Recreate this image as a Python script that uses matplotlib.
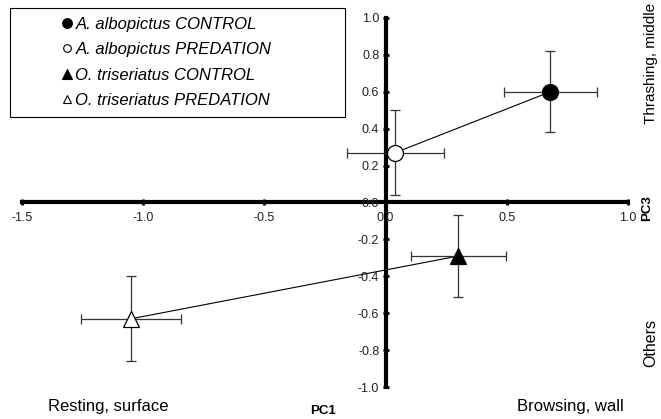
import matplotlib
matplotlib.use('Agg')
import matplotlib.pyplot as plt
from matplotlib.lines import Line2D
from matplotlib.patches import Rectangle

plt.rcParams['font.family'] = ['Liberation Sans', 'DejaVu Sans']

# Group means on PC1 / PC3 with error bars
groups = ['A. albopictus CONTROL', 'A. albopictus PREDATION',
          'O. triseriatus CONTROL', 'O. triseriatus PREDATION']
pc1 = [0.68, 0.04, 0.30, -1.05]
pc3 = [0.60, 0.27, -0.29, -0.63]
pc1_err = [0.19, 0.20, 0.195, 0.205]
pc3_err = [0.22, 0.23, 0.22, 0.23]
markers = ['o', 'o', '^', '^']
faces = ['black', 'white', 'black', 'white']
sizes = [11.5, 11.5, 12, 12]
leg_sizes = [7, 5.5, 7, 6]

xticks = [-1.5, -1.0, -0.5, 0.0, 0.5, 1.0]
yticks = [-1.0, -0.8, -0.6, -0.4, -0.2, 0.0, 0.2, 0.4, 0.6, 0.8, 1.0]

W, H = 661, 419
fig = plt.figure(figsize=(W / 100, H / 100), dpi=100)
ax = fig.add_axes([0, 0, 1, 1])
ax.set_xlim(-1.5905, 1.1358)
ax.set_ylim(-1.173, 1.097)

# Axes crossing at origin
ax.spines['top'].set_visible(False)
ax.spines['right'].set_visible(False)
for side in ['left', 'bottom']:
    ax.spines[side].set_position(('data', 0))
    ax.spines[side].set_linewidth(3)
    ax.spines[side].set_zorder(1)
ax.spines['left'].set_bounds(-1.0, 1.0)
ax.spines['bottom'].set_bounds(-1.5, 1.0)

ax.set_xticks(xticks)
ax.set_xticklabels(['%.1f' % v for v in xticks])
ax.set_yticks(yticks)
ax.set_yticklabels(['%.1f' % v for v in yticks])
ax.tick_params(axis='both', direction='inout', length=5, width=2,
               labelsize=9, labelcolor='#222222')
ax.tick_params(axis='x', pad=4)
ax.tick_params(axis='y', pad=2)

# Connecting lines between control and predation
ax.plot(pc1[0:2], pc3[0:2], color='black', lw=0.8, zorder=3)
ax.plot(pc1[2:4], pc3[2:4], color='black', lw=0.8, zorder=3)

for i in range(len(groups)):
    ax.errorbar(pc1[i], pc3[i], xerr=pc1_err[i], yerr=pc3_err[i],
                fmt='none', ecolor='#333333', elinewidth=0.9, capsize=3.5,
                capthick=0.9, zorder=4)
    ax.plot(pc1[i], pc3[i], marker=markers[i], markersize=sizes[i],
            markerfacecolor=faces[i], markeredgecolor='black',
            markeredgewidth=0.9, linestyle='none', zorder=5)

# Legend with a wide rectangular frame
handles = [Line2D([], [], marker=markers[i], markersize=leg_sizes[i],
                  linestyle='none', markerfacecolor=faces[i],
                  markeredgecolor='black', markeredgewidth=0.8)
           for i in range(len(groups))]
leg = ax.legend(handles, groups, loc='upper left',
                bbox_to_anchor=(62 / W, 1 - 16.5 / H),
                prop={'style': 'italic', 'size': 12},
                frameon=False, handlelength=0.6,
                handletextpad=0.2, labelspacing=0.63, borderpad=0,
                borderaxespad=0)
leg.set_zorder(10)
fig.patches.append(Rectangle((10 / W, 1 - 117 / H), 335 / W, 109 / H,
                             transform=fig.transFigure, fill=False,
                             edgecolor='black', linewidth=0.8))

# Axis titles and pole labels
ax.text(1.078, -0.03, 'PC3', rotation=90, fontsize=9.5, fontweight='bold',
        ha='center', va='center')
ax.text(-0.26, -1.13, 'PC1', fontsize=9.5, fontweight='bold',
        ha='center', va='center')
ax.text(-1.144, -1.105, 'Resting, surface', fontsize=12,
        ha='center', va='center')
ax.text(0.76, -1.105, 'Browsing, wall', fontsize=12,
        ha='center', va='center')
ax.text(1.095, 0.755, 'Thrashing, middle', rotation=90, fontsize=11,
        ha='center', va='center')
ax.text(1.095, -0.76, 'Others', rotation=90, fontsize=11.5,
        ha='center', va='center')

fig.savefig('out.png', dpi=100)
